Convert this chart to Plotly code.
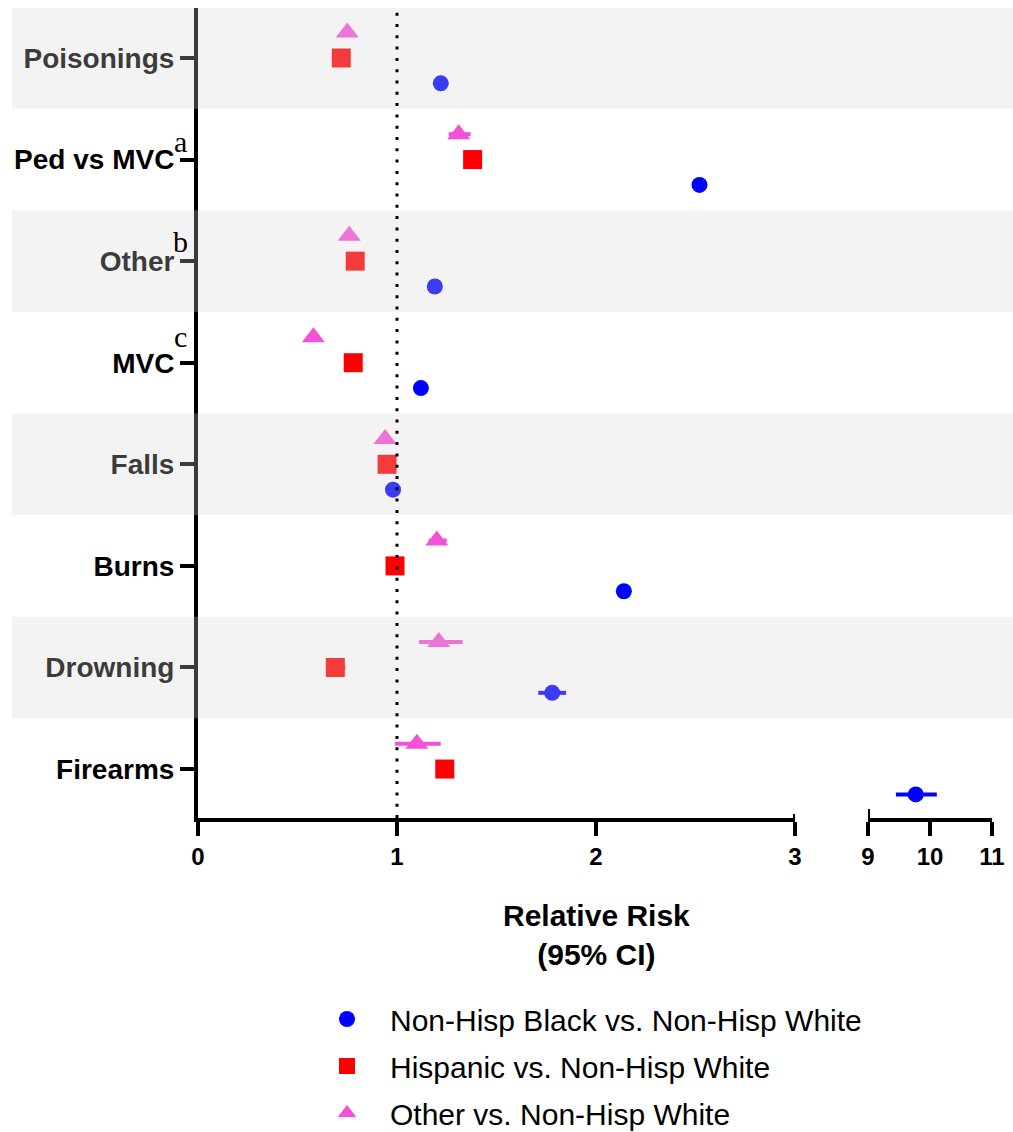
import plotly.graph_objects as go

# ---------------- data (top -> bottom as shown) ----------------
categories = ["Poisonings", "Ped vs MVC", "Other", "MVC", "Falls", "Burns", "Drowning", "Firearms"]
superscripts = {"Ped vs MVC": "a", "Other": "b", "MVC": "c"}
shaded = ["Poisonings", "Other", "Falls", "Drowning"]

black_rr = [1.22, 2.52, 1.19, 1.12, 0.98, 2.14, 1.78, 9.77]
black_lo = [1.20, 2.50, 1.17, 1.10, 0.96, 2.12, 1.71, 9.45]
black_hi = [1.24, 2.54, 1.21, 1.14, 1.00, 2.16, 1.85, 10.11]

hisp_rr = [0.72, 1.38, 0.79, 0.78, 0.95, 0.99, 0.69, 1.24]
hisp_lo = [0.70, 1.36, 0.77, 0.76, 0.93, 0.97, 0.67, 1.22]
hisp_hi = [0.74, 1.40, 0.81, 0.80, 0.97, 1.01, 0.74, 1.26]

other_rr = [0.75, 1.31, 0.76, 0.58, 0.94, 1.20, 1.21, 1.10]
other_lo = [0.72, 1.26, 0.73, 0.55, 0.91, 1.16, 1.11, 0.99]
other_hi = [0.78, 1.37, 0.79, 0.61, 0.97, 1.25, 1.33, 1.22]

series = [
    ("Non-Hisp Black vs. Non-Hisp White", black_rr, black_lo, black_hi, "circle", 16, "#0000FF", -0.25),
    ("Hispanic vs. Non-Hisp White", hisp_rr, hisp_lo, hisp_hi, "square", 19, "#FF0000", 0.0),
    ("Other vs. Non-Hisp White", other_rr, other_lo, other_hi, "triangle-up", 20, "#F550D8", 0.25),
]

x_break = 3  # values above this go on the right axis segment
n = len(categories)
ypos = {c: n - 1 - i for i, c in enumerate(categories)}  # Firearms at 0, Poisonings at 7

W, H = 1013, 1132
SANS = "Liberation Sans, Arial, sans-serif"
SERIF = "Liberation Serif, Times New Roman, serif"

fig = go.Figure()

for gi, (name, rr, lo, hi, sym, size, col, off) in enumerate(series):
    for axis in ("x", "x2"):
        idx = [i for i, v in enumerate(rr) if (v <= x_break) == (axis == "x")]
        if not idx:
            continue
        fig.add_trace(go.Scatter(
            x=[rr[i] for i in idx],
            y=[ypos[categories[i]] + off for i in idx],
            xaxis=axis, yaxis="y",
            mode="markers",
            name=name,
            legendgroup=name,
            showlegend=(axis == "x"),
            marker=dict(symbol=sym, size=size, color=col, line=dict(width=0)),
            error_x=dict(type="data", symmetric=False,
                         array=[hi[i] - rr[i] for i in idx],
                         arrayminus=[rr[i] - lo[i] for i in idx],
                         color=col, thickness=4, width=0),
        ))

ylo, yhi = -0.482, n - 1 + 0.492
dom_y = [1 - 818 / H, 1 - 8 / H]

shapes = []
for c in shaded:
    k = ypos[c]
    shapes.append(dict(type="rect", xref="paper", yref="y",
                       x0=12 / W, x1=1, y0=k - 0.5, y1=min(k + 0.5, yhi),
                       fillcolor="rgb(213,213,213)", opacity=0.28,
                       line=dict(width=0), layer="above"))
# reference line at RR = 1
shapes.append(dict(type="line", xref="x", yref="y", x0=1, x1=1, y0=ylo, y1=yhi,
                   line=dict(color="black", width=3, dash="3px,8.3px"), layer="above"))
# axis-break end caps
shapes.append(dict(type="line", xref="x", yref="paper", x0=3, x1=3,
                   y0=1 - 824 / H, y1=1 - 814 / H, line=dict(color="black", width=4)))
shapes.append(dict(type="line", xref="x2", yref="paper", x0=9, x1=9,
                   y0=1 - 824 / H, y1=1 - 809 / H, line=dict(color="black", width=4)))

annotations = []
for c, s in superscripts.items():
    annotations.append(dict(text=s, xref="paper", yref="y", x=180 / W, y=ypos[c],
                            xanchor="center", yanchor="middle", showarrow=False,
                            yshift={"a": 18, "b": 20, "c": 26}[s],
                            font=dict(family=SERIF, size=30, color="black")))
annotations.append(dict(text="Relative Risk<br>(95% CI)", xref="paper", yref="paper",
                        x=596 / W, y=1 - 935 / H, xanchor="center", yanchor="middle",
                        showarrow=False,
                        font=dict(family=SANS, size=30, color="black", weight="bold")))

axis_common = dict(showline=True, linecolor="black", linewidth=4, ticks="outside",
                   ticklen=14, tickwidth=4, tickcolor="black", showgrid=False,
                   zeroline=False, anchor="y", automargin=False,
                   tickfont=dict(family=SANS, size=24, color="black", weight="bold"))

fig.update_layout(
    width=W, height=H,
    margin=dict(l=0, r=0, t=0, b=0, autoexpand=False),
    paper_bgcolor="white", plot_bgcolor="white",
    xaxis=dict(domain=[198 / W, 795 / W], range=[0, 3], tickvals=[0, 1, 2, 3], **axis_common),
    xaxis2=dict(domain=[868 / W, 992 / W], range=[9, 11], tickvals=[9, 10, 11], **axis_common),
    yaxis=dict(domain=dom_y, range=[ylo, yhi], showline=True, linecolor="black", linewidth=4,
               ticks="outside", ticklen=14, tickwidth=4, tickcolor="black",
               showgrid=False, zeroline=False, automargin=False,
               tickvals=[ypos[c] for c in categories], ticktext=categories,
               tickfont=dict(family=SANS, size=28, color="black", weight="bold")),
    shapes=shapes,
    annotations=annotations,
    showlegend=True,
    legend=dict(x=304 / W, xanchor="left", y=1 - 993 / H, yanchor="top",
                font=dict(family=SANS, size=30, color="black"),
                itemwidth=76, tracegroupgap=5, bgcolor="rgba(0,0,0,0)"),
)

fig.write_html("out.html", config={"displayModeBar": False},
               post_script="document.body.style.margin='0';document.body.style.overflow='hidden';")
